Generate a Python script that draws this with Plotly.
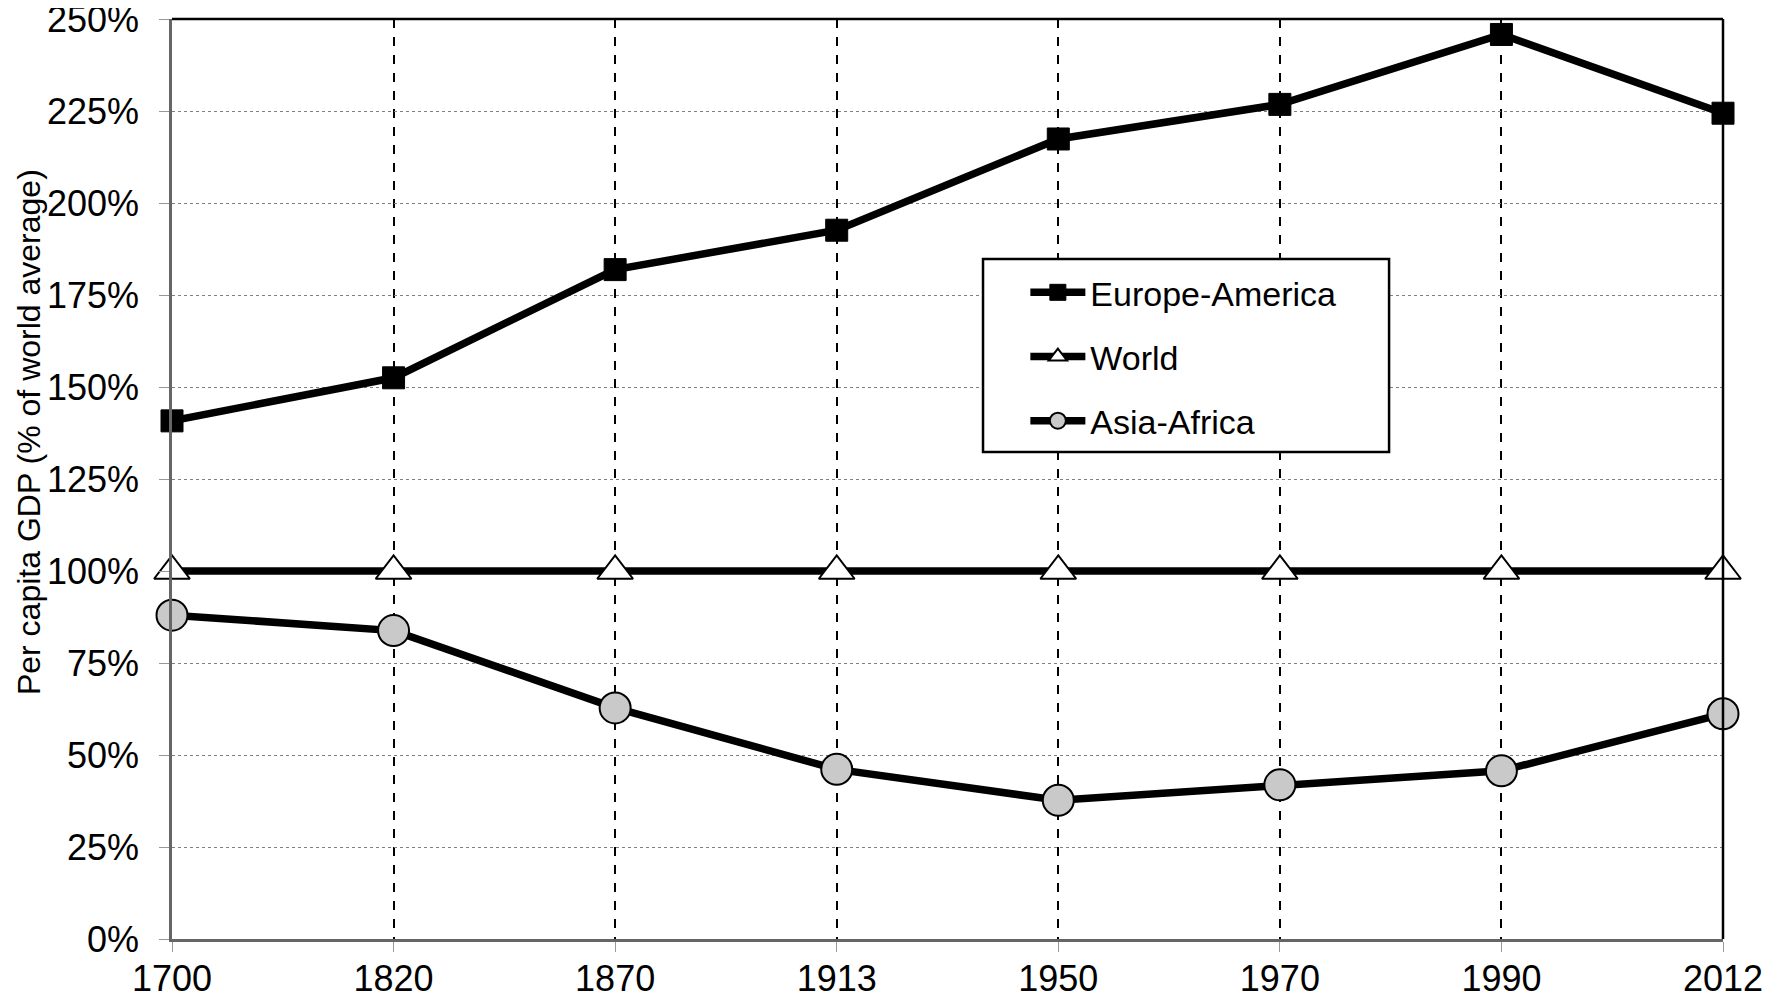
import plotly.graph_objects as go

years = ["1700", "1820", "1870", "1913", "1950", "1970", "1990", "2012"]
europe_america = [140.8, 152.5, 181.9, 192.6, 217.4, 226.8, 245.8, 224.4]
world = [100, 100, 100, 100, 100, 100, 100, 100]
asia_africa = [88.0, 83.8, 62.8, 46.1, 37.7, 41.9, 45.7, 61.2]
y_ticks = [0, 25, 50, 75, 100, 125, 150, 175, 200, 225, 250]
y_tick_labels = ["0%", "25%", "50%", "75%", "100%", "125%", "150%", "175%", "200%", "225%", "250%"]

FONT = "Liberation Sans, Arial, sans-serif"

fig = go.Figure()
fig.add_trace(go.Scatter(
    x=years, y=europe_america, name="Europe-America", mode="lines+markers",
    line=dict(color="black", width=7.5),
    marker=dict(symbol="square", size=22, color="black", line=dict(color="black", width=1)),
    cliponaxis=False, legendgroup="a"))
fig.add_trace(go.Scatter(
    x=years, y=world, name="World", mode="lines+markers",
    line=dict(color="black", width=7.5),
    marker=dict(symbol="triangle-up", size=31, color="white", line=dict(color="black", width=2)),
    cliponaxis=False, legendgroup="b"))
fig.add_trace(go.Scatter(
    x=years, y=asia_africa, name="Asia-Africa", mode="lines+markers",
    line=dict(color="black", width=7.5),
    marker=dict(symbol="circle", size=31, color="#c9c9c9", line=dict(color="black", width=2)),
    cliponaxis=False, legendgroup="c"))

fig.update_layout(
    template="none",
    width=1765, height=991, autosize=False,
    margin=dict(l=164, r=50, t=11, b=60, autoexpand=False),
    paper_bgcolor="white", plot_bgcolor="white",
    font=dict(family=FONT, color="black"),
    showlegend=True,
    legend=dict(
        x=0.5502, y=0.734, xanchor="left", yanchor="top",
        bgcolor="rgba(0,0,0,0)", borderwidth=0,
        font=dict(size=34, family=FONT, color="black"),
        traceorder="grouped", tracegroupgap=17, itemwidth=55,
    ),
    xaxis=dict(
        type="category", range=[0, 7], automargin=False,
        showgrid=True, gridcolor="black", gridwidth=2, griddash="dash",
        showline=True, linecolor="#666666", linewidth=2.5,
        ticks="outside", ticklen=10, tickcolor="#999999", tickwidth=1,
        tickfont=dict(size=36, family=FONT, color="black"),
        ticklabelstandoff=-4, ticklabeloverflow="allow",
        zeroline=False,
    ),
    yaxis=dict(
        range=[0, 250], automargin=False,
        tickmode="array", tickvals=y_ticks, ticktext=y_tick_labels,
        showgrid=True, gridcolor="#808080", gridwidth=1, griddash="dot",
        showline=True, linecolor="#666666", linewidth=2.5,
        ticks="outside", ticklen=10, tickcolor="#999999", tickwidth=1,
        tickfont=dict(size=36, family=FONT, color="black"),
        ticklabelstandoff=13, ticklabeloverflow="allow",
        zeroline=False,
    ),
    shapes=[
        dict(type="line", xref="x domain", yref="y domain", x0=0, x1=1, y0=1, y1=1,
             line=dict(color="black", width=2.5), layer="above"),
        dict(type="line", xref="x domain", yref="y domain", x0=1, x1=1, y0=0, y1=1,
             line=dict(color="black", width=2.5), layer="above"),
        dict(type="rect", xref="x domain", yref="y domain",
             x0=0.5229, x1=0.7847, y0=0.5293, y1=0.7391,
             line=dict(color="black", width=2.5), fillcolor="white", layer="above"),
    ],
    annotations=[
        dict(text="Per capita GDP (% of world average)", xref="paper", yref="paper",
             x=-0.0922, y=0.551, xanchor="center", yanchor="middle",
             textangle=-90, showarrow=False,
             font=dict(size=32, family=FONT, color="black")),
    ],
)

fig.write_html("out.html")
